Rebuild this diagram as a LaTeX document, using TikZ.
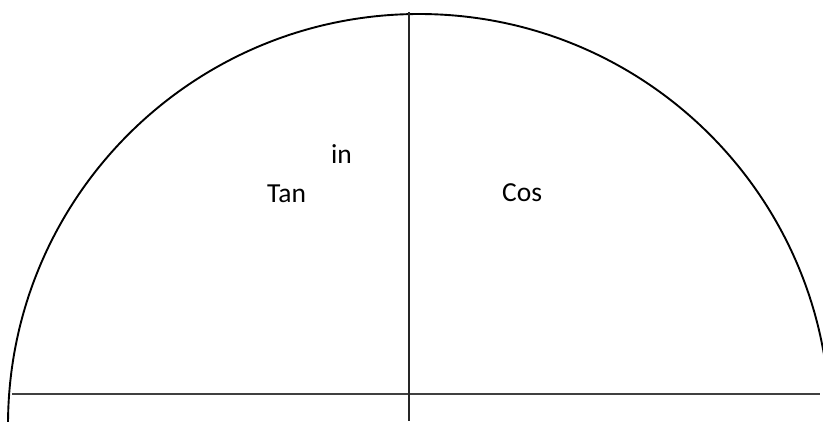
\documentclass[tikz,border=0pt]{standalone}
\usepackage{fontspec}
\setmainfont{Carlito}
\tikzset{
  arcline/.style={line width=1.9pt, black},
  axisline/.style={line width=1.1pt, black!85},
  lbl/.style={inner sep=0pt, anchor=base west, font=\fontsize{27.5}{32}\selectfont}
}
\begin{document}
\begin{tikzpicture}[x=1pt,y=-1pt]
\useasboundingbox (0,0) rectangle (823,421);
\clip (0,0) rectangle (823,421);
\draw[arcline] (419,425) circle[radius=411];
\coordinate (hl) at (12,394);
\coordinate (hr) at (820,394);
\coordinate (vt) at (409,12);
\coordinate (vb) at (409,421);
\draw[axisline, black!75] (hl) -- (hr);
\draw[axisline] (vt) -- (vb);
\node[lbl] (in) at (331,163) {in};
\node[lbl] (tan) at (267,202) {Tan};
\node[lbl] (cos) at (502,201) {Cos};
\end{tikzpicture}
\end{document}
